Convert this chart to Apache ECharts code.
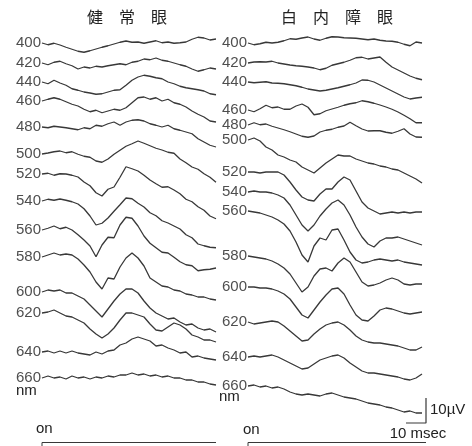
<!DOCTYPE html>
<html>
<head>
<meta charset="utf-8">
<script src="https://cdn.jsdelivr.net/npm/echarts@6/dist/echarts.min.js"></script>
<style>
	html, body { margin: 0; padding: 0; background: #fff; }
	#chart { width: 472px; height: 446px; }
</style>
</head>
<body>
<div id="chart"></div>
<script>
// wavelength of each stimulus (nm), top to bottom
const wavelengths = [400, 420, 440, 460, 480, 500, 520, 540, 560, 580, 600, 620, 640, 660];
const T_STEP = 3; // ms between samples

// resting level of every trace (µV, stacked offsets)
const normalOffsets = [161.2, 153.2, 145.6, 138, 127.6, 116.8, 108.8, 98, 86.4, 75.6, 61.6, 53.2, 37.6, 27.2];
const cataractOffsets = [161.2, 153.2, 145.6, 134.4, 128.4, 122.4, 109.6, 101.6, 94, 76, 63.6, 49.6, 35.6, 24];

// 健常眼 responses (µV from start level), one row per wavelength
const normalEye = [
	[0,-0.7,-0.1,-0.8,-1.7,-2.5,-3.3,-3.7,-3.1,-2.4,-1.7,-1.1,-0.4,0.3,0.8,0.3,0.4,-0.1,0.4,0.9,0.1,0.4,-0.1,0.1,0.4,1.5,2.3,2.0,1.2,1.6],
	[0,-0.7,0.3,0.7,-0.3,-1.1,-2.4,-1.6,-2,-1.3,-1.6,-1.1,-0.7,-0.3,-0.7,0.3,0.7,1.6,1.3,2,1.1,0.7,0,-0.7,-1.3,-2.4,-3.3,-2.7,-2,-2.4],
	[0,-0.7,0.7,-0.4,-1.3,-2.7,-3.3,-4,-4.4,-4.9,-4.7,-4,-3.3,-3.1,-1.3,0.7,2,2.7,2.3,1.7,1.3,0,-0.7,-1.7,-2.3,-2.7,-3.1,-3.6,-4.7,-5.1],
	[0,0.7,1.3,0.7,-0.3,-1.3,-2,-3.3,-4.3,-3.7,-4.7,-4,-3.3,-3.7,-2.7,-0.7,1.3,1.6,0.7,1.3,0,0.7,-0.7,-1.3,-2.4,-4,-5.3,-6.4,-8,-8.4],
	[0,-0.3,0.3,0,-0.3,-0.7,-1.1,-0.3,-0.7,0.7,0.3,1.3,2,0.7,2,2.7,2.9,2.4,1.3,0.7,0,0.7,-0.7,-1.3,-2,-2.7,-4.7,-6,-7.3,-8],
	[0,0.4,0.9,1.2,0.5,0.9,-0.1,-0.9,-1.3,-2.8,-3.3,-2,-0.1,1.5,3.1,4.1,5.2,4.3,3.3,2.3,1.6,0.7,0.3,-2,-3.5,-5.2,-6.1,-7.9,-9.3,-11.3],
	[0,0.3,-0.5,0.1,0,-0.5,-1.2,-3.2,-4.7,-7.5,-8.8,-6.1,-5.2,-1.3,2.9,2.1,1.2,-0.5,-2.4,-3.9,-5.3,-5.1,-6.4,-7.9,-10.1,-11.1,-13.1,-14.5,-16.8,-17.9],
	[0,0.7,0.3,0.8,0.3,-0.3,-1.2,-3.1,-6,-9.6,-8.9,-6.8,-4.1,-1.5,1.2,0.9,-0.9,-2.4,-4.7,-5.9,-7.9,-8.8,-10,-11.2,-13.5,-14.7,-17.2,-17.9,-18.5,-18.7],
	[0,0.7,1.6,0.5,1.1,0,-1.9,-4,-6.4,-10.7,-6,-2.9,-3.1,2,5.1,4.7,1.6,-2.4,-5.3,-7.1,-8.9,-9.2,-10.9,-12.7,-13.9,-14.3,-16.3,-15.9,-15.7,-15.2],
	[0,0.8,1.6,0.8,1.2,0.8,-0.8,-3.2,-6,-10,-12.8,-8.4,-8.8,-4,-0.4,1.6,-0.4,-3.6,-8.4,-10,-11.6,-12,-13.2,-13.6,-14.8,-15.2,-16,-16,-16.8,-17.2],
	[0,0.8,0.4,0.8,-0.4,-0.4,-1.6,-2.8,-5.2,-7.6,-10,-6.8,-3.6,-0.8,1.2,1.2,-0.4,-3.6,-6.4,-8.4,-9.6,-10.8,-10.4,-12,-13.2,-12.8,-14.4,-15.2,-14.8,-16],
	[0,0.4,1.2,0,-1.2,-1.6,-2.8,-4,-6.4,-8.4,-10,-8.4,-6,-2.8,0,0,-0.8,-1.6,-4.4,-6.8,-7.2,-5.6,-4,-4.8,-6.4,-8.8,-9.6,-10.8,-10.8,-11.6],
	[0,0.4,-0.4,0.4,-0.4,0.4,-0.4,-0.8,-1.2,0,-0.8,0.4,0.8,2.8,3.6,5.2,6,5.2,4.4,2.4,2.8,1.6,0.8,-0.4,0,-2,-1.6,-2.4,-2.8,-3.2],
	[0,0.8,0,0.4,-0.4,0.8,0,0.4,-0.4,0.4,0,0.8,0.4,1.2,1.2,2,1.2,1.6,0.8,1.2,0.4,0.8,0,0,-0.8,-0.8,-1.6,-1.6,-2.4,-2.8]
];

// 白内障眼 responses (µV from start level)
const cataractEye = [
	[0,-0.7,-0.3,0.3,0,0.3,0.9,1.7,1.5,2,2.4,1.6,1.1,1.9,2.5,2.4,2.1,2,1.9,1.6,1.3,1.6,1.1,0.8,0.7,0.3,-0.5,-1.1,0.4,0],
	[0,0.4,0.5,0.4,0.7,0,-0.4,-0.8,-1.1,-1.3,-1.6,-2,-2.7,-2.1,-0.9,-0.3,0.3,1.1,2.1,2.3,1.6,2,2.4,0.3,-1.6,-2.8,-4,-5.2,-6.1,-6.7],
	[0,-0.3,-0.1,0.1,-0.4,-0.5,-0.7,-1.1,-1.5,-2.1,-2.8,-3.2,-3.6,-3.3,-2.8,-2.3,-1.7,-1.1,-0.4,0.8,0.7,0,-1.2,-2.4,-3.6,-4.8,-6,-6.8,-6.4,-6.1],
	[0,-0.7,0.5,1.9,0.9,1.2,0.3,0.3,1.6,2.4,1.1,-1.9,-1.5,-0.3,0.4,1.1,1.9,2.5,2.9,3.7,3.3,2.7,2,1.2,0.3,-0.8,-2.1,-3.5,-5.1,-5.1],
	[0,0.9,0.1,0.4,-0.5,-1.2,-1.9,-2.7,-3.6,-4.5,-4.9,-4.4,-2.8,-2.1,-1.7,-0.9,-0.4,1.1,-0.3,-1.6,-2.4,-2.3,-2.3,-2.9,-3.3,-2.5,-1.5,-3.6,-4.8,-4.9],
	[0,0.8,-0.4,-2.8,-4,-6,-6.8,-8,-8.8,-10.8,-12,-13.2,-11.2,-9.2,-7.6,-6,-6.4,-6.4,-7.6,-8.4,-9.2,-9.6,-10.4,-10.8,-11.6,-12,-13.2,-14.4,-15.6,-17.2],
	[0,0,-0.4,0,0,0,-1.2,-4,-7.2,-10,-11.2,-11.6,-8.8,-6.8,-6.8,-4,-2,-3.2,-7.6,-12,-14.4,-15.6,-16.8,-16.4,-16,-16.4,-16,-16.4,-16,-16],
	[0,0.4,0,0,-0.4,-1.2,-2.4,-5.2,-9.2,-13.2,-15.6,-13.2,-9.6,-6.8,-4.4,-3.2,-5.2,-9.2,-14,-18,-20.8,-22,-19.6,-18.4,-18.4,-18,-18.8,-19.6,-20.4,-21.2],
	[0,-0.4,-0.8,-1.6,-2.4,-3.6,-5.2,-8,-12.4,-17.6,-20.4,-14,-10.8,-11.6,-7.6,-7.2,-11.6,-16.4,-19.6,-20.8,-20.4,-19.6,-19.2,-19.6,-20,-19.6,-20.4,-20.8,-21.2,-21.6],
	[0,-0.4,-0.8,-1.2,-2,-3.2,-4.8,-7.2,-10.8,-14.4,-12.4,-8,-5.2,-4.8,-6,-2.8,-0.8,-2.4,-6.4,-10.4,-12,-11.6,-10.8,-9.6,-8.8,-9.6,-11.2,-11.6,-11.2,-11.2],
	[0,0,-0.4,-0.4,-0.8,-1.6,-2.8,-4.8,-8,-11.2,-12.4,-9.2,-6,-3.2,-0.8,-0.4,-2.8,-7.2,-11.2,-13.2,-13.6,-11.6,-9.2,-8.4,-8.8,-9.6,-10.4,-10.8,-10.4,-10],
	[0,-0.8,-0.4,0,0.4,0,-1.6,-3.6,-5.6,-7.6,-7.2,-4.8,-2.8,-1.2,-0.4,0,-1.2,-3.2,-5.6,-7.2,-8,-8.4,-8.4,-8.8,-9.2,-9.6,-10.4,-11.2,-11.2,-10],
	[0,0.4,0,0.4,0.8,0,-1.2,-2.4,-3.6,-4.8,-4.4,-2.8,-1.2,-0.4,0.4,0.8,-0.4,-2.4,-4,-5.6,-6.4,-6.4,-6.8,-7.2,-7.6,-8,-8.8,-9.2,-8.4,-6.8],
	[0,0.4,-0.4,0,-0.8,-0.4,-1.2,-2.4,-3.2,-3.6,-3.2,-3.6,-4,-3.2,-2.8,-3.6,-4.4,-4.8,-5.2,-6,-6.8,-7.2,-7.6,-8.4,-8.8,-9.6,-10.4,-10,-10.8,-10.8]
];

// stimulus marker (ms) and scale bar sizes
const stimulusEnd = [87, 89];
const SCALE_MS = 10;
const SCALE_UV = 10;

const chart = echarts.init(document.getElementById("chart"));
const LINE = "#383838";
const FONT = '"Liberation Sans", Arial, sans-serif';
const CJK = '"Noto Sans CJK JP", sans-serif';

function traceSeries(panel, traces, offsets) {
	return traces.map(function(row, i) {
		return {
			type: "line",
			xAxisIndex: panel,
			yAxisIndex: panel,
			showSymbol: false,
			silent: true,
			animation: false,
			lineStyle: { color: LINE, width: 1.3 },
			data: row.map(function(v, k) { return [k * T_STEP, offsets[i] + v]; })
		};
	});
}

function labelSeries(panel, offsets) {
	return {
		type: "scatter",
		xAxisIndex: panel,
		yAxisIndex: panel,
		symbolSize: 0,
		silent: true,
		animation: false,
		label: {
			show: true,
			position: "left",
			distance: 1,
			color: "#222",
			fontSize: 15,
			fontFamily: FONT,
			formatter: function(p) { return p.value[2]; }
		},
		data: wavelengths.map(function(w, i) { return [0, offsets[i], w]; })
	};
}

function stimulusSeries(panel) {
	return {
		type: "line",
		xAxisIndex: panel,
		yAxisIndex: panel,
		showSymbol: false,
		silent: true,
		animation: false,
		lineStyle: { color: LINE, width: 1 },
		data: [[0, 0], [0, 1.4], [stimulusEnd[panel], 1.4]]
	};
}

const barX = 89, barY = 9.2;
const scaleSeries = {
	type: "line",
	xAxisIndex: 1,
	yAxisIndex: 1,
	showSymbol: false,
	silent: true,
	animation: false,
	lineStyle: { color: LINE, width: 1.2 },
	data: [[barX - SCALE_MS, barY], [barX, barY], [barX, barY + SCALE_UV]]
};

function txt(text, x, y, size, align, family) {
	return {
		type: "text",
		silent: true,
		style: {
			text: text, x: x, y: y,
			fill: "#222",
			font: size + "px " + family,
			textAlign: align, align: align,
			textVerticalAlign: "middle", verticalAlign: "middle"
		}
	};
}

const axisOff = { show: false };
const option = {
	backgroundColor: "#fff",
	animation: false,
	grid: [
		{ left: 42, width: 180, top: 0, height: 446 },
		{ left: 248, width: 180, top: 0, height: 446 }
	],
	xAxis: [
		Object.assign({ type: "value", gridIndex: 0, min: 0, max: 90 }, axisOff),
		Object.assign({ type: "value", gridIndex: 1, min: 0, max: 90 }, axisOff)
	],
	yAxis: [
		Object.assign({ type: "value", gridIndex: 0, min: 0, max: 178.4 }, axisOff),
		Object.assign({ type: "value", gridIndex: 1, min: 0, max: 178.4 }, axisOff)
	],
	graphic: [
		txt("健　常　眼", 127, 17, 16, "center", CJK),
		txt("白　内　障　眼", 337, 17, 16, "center", CJK),
		txt("nm", 16, 391, 15, "left", FONT),
		txt("nm", 219, 397, 15, "left", FONT),
		txt("on", 36, 429, 15, "left", FONT),
		txt("on", 243, 430, 15, "left", FONT),
		txt("10µV", 430, 410, 15, "left", FONT),
		txt("10 msec", 418, 434, 15, "center", FONT)
	],
	series: [].concat(
		traceSeries(0, normalEye, normalOffsets),
		traceSeries(1, cataractEye, cataractOffsets),
		[labelSeries(0, normalOffsets), labelSeries(1, cataractOffsets),
		 stimulusSeries(0), stimulusSeries(1), scaleSeries]
	)
};
chart.setOption(option);
</script>
</body>
</html>
